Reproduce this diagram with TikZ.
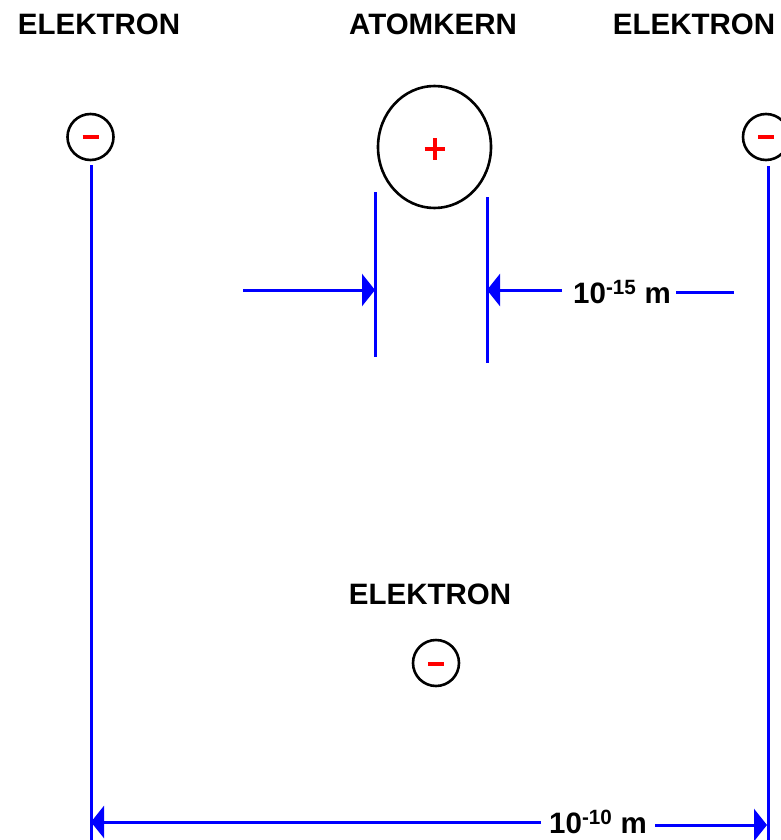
\documentclass[tikz,border=0pt]{standalone}
\usepackage{fontspec}
\setmainfont{Liberation Sans}
\usetikzlibrary{arrows.meta,shapes.geometric}
\begin{document}
\begin{tikzpicture}[x=1pt,y=-1pt,
  lbl/.style={font=\fontsize{29.5}{30}\selectfont\bfseries, inner sep=0pt},
  electron/.style={circle, draw=black, line width=2.6pt, minimum size=46pt, inner sep=0pt},
  nucleus/.style={ellipse, draw=black, line width=2.6pt, minimum width=113pt, minimum height=122pt, inner sep=0pt},
  sign/.style={red, line width=3.6pt},
  dim/.style={blue, line width=3pt},
  tip/.style={-{Triangle[length=13pt,width=32pt]}}
]
\useasboundingbox (0,0) rectangle (780,840);
% labels
\node[lbl] (t1) at (99,24) {ELEKTRON};
\node[lbl] (t2) at (433,24) {ATOMKERN};
\node[lbl] (t3) at (694,24) {ELEKTRON};
\node[lbl] (t4) at (430,594) {ELEKTRON};
% particles
\node[electron] (e1) at (90.5,137) {};
\node[electron] (e2) at (766,137) {};
\node[electron] (e3) at (436,663) {};
\node[nucleus] (nuc) at (434.5,147) {};
% signs
\draw[sign] ([xshift=-8pt]e1.center) -- ([xshift=8pt]e1.center);
\draw[sign] ([xshift=-8pt]e2.center) -- ([xshift=8pt]e2.center);
\draw[sign] ([xshift=-8pt,yshift=-1pt]e3.center) -- ([xshift=8pt,yshift=-1pt]e3.center);
\draw[red, line width=4pt] ([xshift=-10pt,yshift=-2pt]nuc.center) -- ([xshift=10pt,yshift=-2pt]nuc.center);
\draw[red, line width=4pt] ([yshift=9pt]nuc.center) -- ([yshift=-13pt]nuc.center);
% long verticals
\coordinate (b1) at (91,840);
\coordinate (b2) at (768,840);
\coordinate (v1) at (91,165);
\coordinate (v2) at (768,166);
\draw[dim] (v1) -- (b1);
\draw[dim] (v2) -- (b2);
% nucleus extension lines
\coordinate (n1a) at (375.5,192);
\coordinate (n1b) at (375.5,357);
\coordinate (n2a) at (487,197);
\coordinate (n2b) at (487,363);
\draw[dim] (n1a) -- (n1b);
\draw[dim] (n2a) -- (n2b);
% 10^-15 dimension
\coordinate (a1) at (243,290);
\coordinate (a1e) at (375,290);
\coordinate (a2e) at (487,290);
\coordinate (r2) at (734,292);
\node[lbl] (m15) at (622,292) {10\textsuperscript{-15} m};
\draw[dim,tip] (a1) -- (a1e);
\draw[dim,tip] (m15.west |- a2e) ++(-11,0) -- (a2e);
\draw[dim] (m15.east) ++(5,0) -- (r2);
% 10^-10 dimension
\node[lbl] (m10) at (598,822) {10\textsuperscript{-10} m};
\coordinate (d1) at (91,822);
\coordinate (d2) at (767,825);
\draw[dim,tip] (m10.west |- d1) ++(-8,0) -- (d1);
\draw[dim,tip] (m10.east |- d2) ++(8,0) -- (d2);
\end{tikzpicture}
\end{document}
